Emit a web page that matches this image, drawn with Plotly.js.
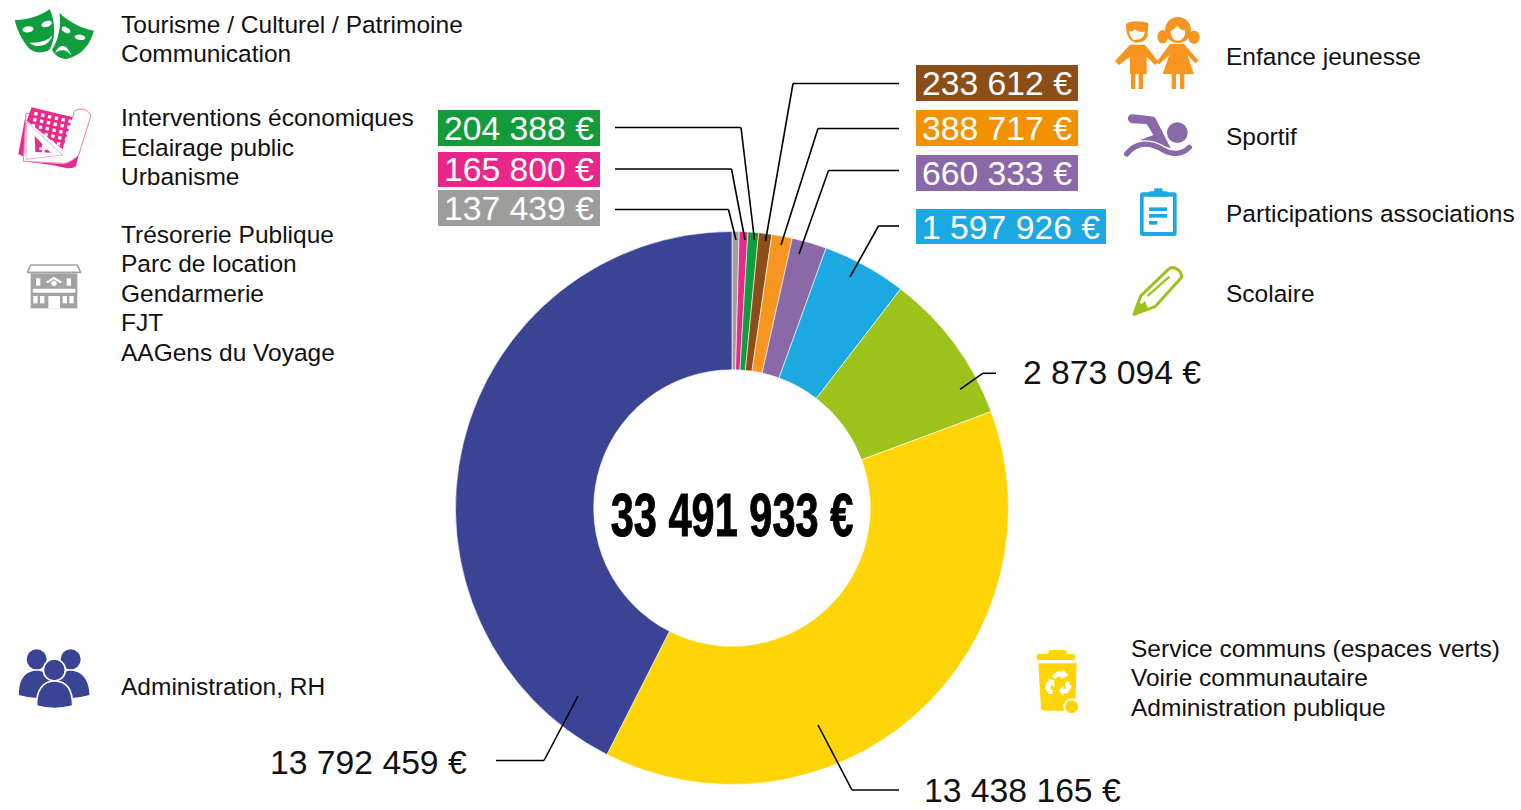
<!DOCTYPE html>
<html><head><meta charset="utf-8">
<script src="https://cdn.plot.ly/plotly-3.0.1.min.js"></script>
<style>html,body{margin:0;padding:0;background:#fff;overflow:hidden}#c{width:1521px;height:810px}</style>
</head><body><div id="c"></div>
<script>
// ---- data ----
const sliceNames = ['Trésorerie, Parc de location, Gendarmerie, FJT, AAGens du Voyage','Interventions économiques, Eclairage public, Urbanisme','Tourisme, Culturel, Patrimoine, Communication','Enfance jeunesse','Sportif','Participations associations','Scolaire','Sans libellé','Service communs, Voirie, Administration publique','Administration, RH'];
// Amounts printed on the chart
const printedAmounts = [137439,165800,204388,233612,388717,660333,1597926,2873094,13438165,13792459];
// Slice sizes as drawn in the picture, in degrees. The picture's slices are not
// exactly proportional to its printed amounts, so they are read separately.
const drawnDegrees = [1.5,1.8,2.25,2.75,4.3,7.3,17.7,32,137.3,153.1];
const sliceColors = ['#A0A09F','#E72A8B','#109D3E','#8B4E17','#F6951F','#8A69A9','#1CA9E1','#9BC31C','#FFD507','#3B4395'];
const boxColors = ['#9D9D9C','#E9278A','#139A3B','#8B4E17','#F39200','#8A69A9','#1CA9E1'];
const totalLabel = '33 491 933 €';
const legendLines = [
 ['Tourisme / Culturel / Patrimoine',121,24],['Communication',121,53],
 ['Interventions économiques',121,117.5],['Eclairage public',121,147],['Urbanisme',121,176.5],
 ['Trésorerie Publique',121,235],['Parc de location',121,263.5],['Gendarmerie',121,293],['FJT',121,322.5],['AAGens du Voyage',121,352],
 ['Administration, RH',121,686],
 ['Enfance jeunesse',1226,56.5],['Sportif',1226,136.5],['Participations associations',1226,213],['Scolaire',1226,293],
 ['Service communs (espaces verts)',1131,648],['Voirie communautaire',1131,677],['Administration publique',1131,707]
];
// ---- layout helpers (pixels to paper) ----
const W=1521,H=810;
const px=x=>x/W, py=y=>1-y/H;
const fmt=v=>String(v).replace(/\B(?=(\d{3})+$)/g,' ')+' €';
// box: [slice index, x0,y0,x1,y1, label centre y]
const boxes=[[2,438,110,600,146,127.5],[1,438,152,600,187,169],[0,438,190,600,226,208],[3,916,65,1078,101,83],[4,916,110,1078,146,127.5],[5,916,155,1078,191,173],[6,916,209,1106,244,226.5]];
// plain labels: [slice index, left x, centre y]
const plain=[[7,1023,372],[8,924,790],[9,270,762]];
const leaders=[
 [[615,209.5],[728.5,209.5],[736,240]],
 [[615,169],[731.5,169],[745,240]],
 [[615,127.5],[741,127.5],[754.5,240]],
 [[899,83.5],[793,83.5],[765.5,241]],
 [[899,128.5],[818,128.5],[781,245]],
 [[899,170.5],[828.5,170.5],[799,254]],
 [[899,226],[878.5,226],[850,277]],
 [[996,373.3],[982.7,373.3],[960,389.3]],
 [[818,725],[852,790],[899,790]],
 [[578,696],[544,760.5],[496,760.5]]
];
// ---- icons, drawn in 3x local units ----
const G='#109D3E',P='#E72A8B',Y='#A3A3A3',O='#F6951F',V='#8A69A9',B='#1CA9E1',L='#9BC31C',N='#3B4395',J='#FFD507';
const gridDots=(()=>{let s='';for(let i=0;i<6;i++)for(let j=0;j<6;j++){
  const x=104+i*20.5+j*-3.5, y=335+i*4.5+j*18; if(x<215&&y<440&&!(j>i+2)) s+=`<rect x="${x}" y="${y}" width="10" height="10" fill="#fff" transform="rotate(13 ${x} ${y})"/>`;}return s;})();
const icons=[
 {x:0,y:0,w:110,h:70,vb:'0 0 330 210',svg:`
  <path d="M178 38C205 65 245 85 282 92C270 135 245 165 200 177C180 175 165 168 156 150C175 120 185 75 178 38Z" fill="${G}"/>
  <path d="M43 58C80 60 125 45 150 25C165 60 172 110 150 150C135 160 105 165 85 145C65 120 48 90 43 58Z" fill="${G}" stroke="#fff" stroke-width="3"/>
  <ellipse cx="84" cy="88" rx="17" ry="9" fill="#fff" transform="rotate(-8 84 88)"/><ellipse cx="140" cy="72" rx="16" ry="9" fill="#fff" transform="rotate(-18 140 72)"/>
  <path d="M88 128C112 148 148 138 157 106C145 122 118 130 88 128Z" fill="#fff"/>
  <ellipse cx="198" cy="90" rx="14" ry="8" fill="#fff" transform="rotate(30 198 90)"/><ellipse cx="240" cy="112" rx="16" ry="8" fill="#fff" transform="rotate(8 240 112)"/>
  <path d="M165 160C178 128 202 132 214 167C200 148 182 146 165 160Z" fill="#fff"/>`},
 {x:0,y:100,w:100,h:75,vb:'0 300 300 225',svg:`
  <path d="M78 340L55 462L72 470Z" fill="${P}"/>
  <path d="M72 484L190 492C205 490 225 478 236 465L228 498C212 512 190 500 150 494Z" fill="${P}"/>
  <path d="M78 340L70 484L190 490C205 490 225 475 236 465L272 350C272 328 235 320 222 335L218 352Z" fill="#fff" stroke="#EE7DB5" stroke-width="3"/>
  <path d="M95 322L218 352L188 448L80 362Z" fill="${P}"/>${gridDots}
  <path d="M80 365L188 465L78 478Z" fill="#fff" stroke="#EE7DB5" stroke-width="2"/>
  <path d="M104 408L152 458L106 456Z" fill="${P}"/>
  <path d="M118 442h8v-8h8v8h8v8h-8v8h-8v-8h-8Z" fill="#fff"/>`},
 {x:20,y:260,w:70,h:55,vb:'60 780 210 165',svg:`
  <path d="M82 817L92 795H232L242 817Z" fill="#fff" stroke="${Y}" stroke-width="5" stroke-linejoin="round"/>
  <rect x="92" y="820" width="140" height="105" fill="${Y}"/>
  <rect x="108" y="835" width="13" height="22" fill="#fff"/><rect x="200" y="835" width="13" height="22" fill="#fff"/>
  <path d="M137 845L162 830L187 845L180 850L162 838L144 850Z" fill="#fff"/><circle cx="162" cy="850" r="8" fill="#fff"/>
  <rect x="98" y="866" width="128" height="12" rx="4" fill="#fff"/>
  <rect x="100" y="888" width="13" height="22" fill="#fff"/><rect x="120" y="888" width="13" height="22" fill="#fff"/>
  <rect x="188" y="888" width="13" height="22" fill="#fff"/><rect x="208" y="888" width="13" height="22" fill="#fff"/>
  <rect x="145" y="888" width="35" height="37" fill="#fff"/>`},
 {x:1110,y:10,w:95,h:85,vb:'30 30 285 255',svg:`
  <path d="M78 72C90 60 130 62 145 70L143 105C140 122 125 128 108 128C90 125 78 110 78 72Z" fill="${O}"/>
  <path d="M88 92C95 98 100 92 105 88C112 95 125 98 134 94C134 112 120 120 108 120C96 120 88 108 88 92Z" fill="#fff"/>
  <path d="M90 134H135L175 185L165 195L140 170V222H90V170L57 195L45 183Z" fill="${O}"/>
  <rect x="93" y="222" width="13" height="45" fill="${O}"/><rect x="116" y="222" width="13" height="45" fill="${O}"/>
  <ellipse cx="188" cy="110" rx="16" ry="20" fill="${O}"/><ellipse cx="282" cy="112" rx="17" ry="20" fill="${O}"/>
  <circle cx="234" cy="90" r="39" fill="${O}"/>
  <path d="M212 92C222 90 228 82 232 76C238 88 248 92 256 92C256 112 245 122 234 122C222 122 212 112 212 92Z" fill="#fff"/>
  <path d="M210 132H252L296 182L286 190L262 165L282 222H188L208 165L178 193L170 186Z" fill="${O}"/>
  <rect x="215" y="222" width="13" height="45" fill="${O}"/><rect x="240" y="222" width="13" height="45" fill="${O}"/>`},
 {x:1120,y:105,w:80,h:60,vb:'60 315 240 180',svg:`
  <circle cx="232" cy="398" r="31" fill="${V}"/>
  <path d="M95 343C120 345 150 348 165 352L212 445L120 420L160 405L140 372L95 370C80 365 80 345 95 343Z" fill="${V}"/>
  <path d="M80 462C110 425 150 425 190 450C220 468 250 460 268 442" fill="none" stroke="#fff" stroke-width="24" stroke-linecap="round"/>
  <path d="M80 462C110 425 150 425 190 450C220 468 250 460 268 442" fill="none" stroke="${V}" stroke-width="16" stroke-linecap="round"/>`},
 {x:1130,y:185,w:60,h:55,vb:'90 555 180 165',svg:`
  <rect x="120" y="577" width="110" height="131" rx="8" fill="${B}"/><rect x="131" y="590" width="88" height="106" fill="#fff"/>
  <rect x="147" y="574" width="56" height="16" rx="3" fill="${B}"/><rect x="162" y="565" width="26" height="14" rx="5" fill="${B}"/>
  <rect x="147" y="622" width="54" height="11" fill="${B}"/><rect x="147" y="642" width="54" height="11" fill="${B}"/><rect x="147" y="663" width="25" height="11" fill="${B}"/>`},
 {x:1125,y:260,w:65,h:60,vb:'75 780 195 180',svg:`
  <path d="M102 943L122 888L205 808C220 795 245 810 245 832L165 920Z" fill="#fff" stroke="${L}" stroke-width="9" stroke-linejoin="round"/>
  <path d="M100 946L112 906L125 912L135 903L143 925Z" fill="${L}"/>
  <path d="M143 888L208 830" stroke="${L}" stroke-width="7" fill="none"/>`},
 {x:0,y:630,w:110,h:90,vb:'0 0 330 270',svg:`
  <circle cx="110" cy="88" r="30" fill="${N}"/><circle cx="212" cy="88" r="30" fill="${N}"/>
  <path d="M57 195C55 150 75 122 110 122C145 122 165 150 165 205C130 205 90 205 57 195Z" fill="${N}"/>
  <path d="M160 205C160 150 180 122 212 122C245 122 268 150 268 195C235 205 195 205 160 205Z" fill="${N}"/>
  <circle cx="163" cy="120" r="33" fill="${N}" stroke="#fff" stroke-width="5"/>
  <path d="M110 228C108 180 130 153 163 153C200 153 218 180 218 228C180 238 145 238 110 228Z" fill="${N}" stroke="#fff" stroke-width="5"/>`},
 {x:1020,y:640,w:80,h:90,vb:'0 0 240 270',svg:`
  <rect x="85" y="30" width="55" height="18" rx="6" fill="${J}"/><rect x="50" y="42" width="115" height="18" rx="6" fill="${J}"/>
  <path d="M55 70H170L165 205Q165 212 155 212H72Q65 212 63 205Z" fill="${J}"/>
  <circle cx="155" cy="200" r="22" fill="${J}" stroke="#fff" stroke-width="5"/>
  <path d="M96 108L112 94H130L128 88L146 106L122 118L124 110H112L106 118Z" fill="#fff"/>
  <path d="M134 130L146 124L154 142L142 160H130V168L116 152L130 138V146H138Z" fill="#fff"/>
  <path d="M78 128L88 122L84 116L102 120L104 142L96 134L90 146L98 150V162H86L76 146Z" fill="#fff"/>`}
];
const images=icons.map(ic=>({
  source:'data:image/svg+xml;charset=utf-8,'+encodeURIComponent(`<svg xmlns="http://www.w3.org/2000/svg" width="${ic.w}" height="${ic.h}" viewBox="${ic.vb}">${ic.svg}</svg>`),
  xref:'paper',yref:'paper',x:px(ic.x),y:py(ic.y),sizex:ic.w/W,sizey:ic.h/H,xanchor:'left',yanchor:'top',sizing:'stretch',layer:'above'
}));
// ---- shapes ----
const shapes=[];
boxes.forEach(b=>shapes.push({type:'rect',xref:'paper',yref:'paper',x0:px(b[1]),x1:px(b[3]),y0:py(b[2]),y1:py(b[4]),fillcolor:boxColors[b[0]],line:{width:0},layer:'above'}));
leaders.forEach(pts=>{for(let i=0;i<pts.length-1;i++)shapes.push({type:'line',xref:'paper',yref:'paper',x0:px(pts[i][0]),y0:py(pts[i][1]),x1:px(pts[i+1][0]),y1:py(pts[i+1][1]),line:{color:'#000',width:1.6},layer:'above'});});
// ---- annotations ----
const FONT='"Liberation Sans", Arial, sans-serif';
const ann=(t,x,y,xa,size,color)=>({text:t,xref:'paper',yref:'paper',x:px(x),y:py(y),xanchor:xa,yanchor:'middle',showarrow:false,borderpad:0,borderwidth:0,font:{family:FONT,size:size,color:color}});
const annotations=[];
legendLines.forEach(l=>annotations.push(ann(l[0],l[1],l[2],'left',24.5,'#111')));
boxes.forEach(b=>annotations.push(ann(fmt(printedAmounts[b[0]]),(b[1]+b[3])/2,b[5],'center',33.7,'#fff')));
plain.forEach(p=>annotations.push(ann(fmt(printedAmounts[p[0]]),p[1],p[2],'left',33.7,'#111')));
annotations.push(ann(totalLabel,731.5,514,'center',62,'#000'));
annotations[annotations.length-1].font.weight=700;

const trace={type:'pie',labels:sliceNames,values:drawnDegrees,sort:false,direction:'clockwise',rotation:0,hole:0.5,
  marker:{colors:sliceColors,line:{color:'#fff',width:0.6}},textinfo:'none',hoverinfo:'label',showlegend:false,
  domain:{x:[455.5/W,1008.5/W],y:[1-784.5/H,1-231.5/H]}};
const layout={width:W,height:H,margin:{l:0,r:0,t:0,b:0},paper_bgcolor:'#fff',showlegend:false,shapes,annotations,images};
Plotly.newPlot('c',[trace],layout,{displayModeBar:false,staticPlot:true}).then(()=>{
  document.querySelectorAll('.annotation-text').forEach(t=>{
    if(t.textContent.replace(/\s/g,' ')===totalLabel){t.style.transformBox='fill-box';t.style.transformOrigin='center';t.style.transform='scaleX(0.67)';t.style.stroke='#000';t.style.strokeWidth='1px';}
  });
});
</script></body></html>
